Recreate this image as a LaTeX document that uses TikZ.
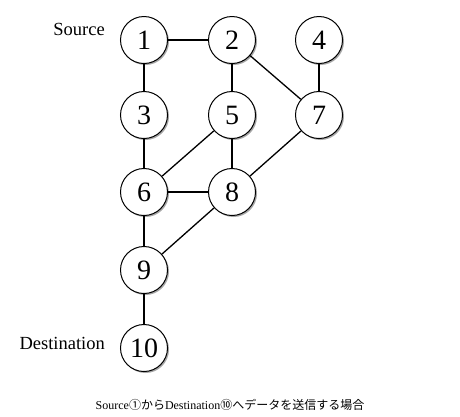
\documentclass[tikz,border=0pt]{standalone}
\usepackage{fontspec}
\setmainfont{Liberation Serif}
\newfontfamily\cjk{Noto Sans CJK JP}
\usetikzlibrary{shadows}
\begin{document}
\begin{tikzpicture}[x=1pt,y=-1pt,
  vtx/.style={circle,draw,line width=1pt,fill=white,minimum size=47pt,inner sep=0pt,
    font=\fontsize{28}{28}\selectfont,
    drop shadow={shadow xshift=1.5pt,shadow yshift=-1.5pt,fill=black,opacity=0.35}},
  edge/.style={line width=1.3pt},
  lbl/.style={font=\fontsize{18.5}{18.5}\selectfont,anchor=east,inner sep=0pt}]
\useasboundingbox (0,0) rectangle (460,416);
\node[vtx] (n1) at (144,40) {1};
\node[vtx] (n2) at (232,40) {2};
\node[vtx] (n4) at (319,40) {4};
\node[vtx] (n3) at (144,115) {3};
\node[vtx] (n5) at (232,115) {5};
\node[vtx] (n7) at (319,115) {7};
\node[vtx] (n6) at (144,192) {6};
\node[vtx] (n8) at (232,192) {8};
\node[vtx] (n9) at (144,270) {9};
\node[vtx] (n10) at (144,348) {10};
\draw[edge] (n1) -- (n2);
\draw[edge] (n1) -- (n3);
\draw[edge] (n2) -- (n5);
\draw[edge] (n2) -- (n7);
\draw[edge] (n4) -- (n7);
\draw[edge] (n3) -- (n6);
\draw[edge] (n5) -- (n6);
\draw[edge] (n5) -- (n8);
\draw[edge] (n7) -- (n8);
\draw[edge] (n6) -- (n8);
\draw[edge] (n6) -- (n9);
\draw[edge] (n8) -- (n9);
\draw[edge] (n9) -- (n10);
\node[lbl] (src) at (105,29) {Source};
\node[lbl] (dst) at (105,343) {Destination};
\node[font=\fontsize{12}{12}\selectfont,inner sep=0pt] (cap) at (230,405) {Source{\cjk ①から}Destination{\cjk ⑩へデータを送信する場合}};
\end{tikzpicture}
\end{document}
